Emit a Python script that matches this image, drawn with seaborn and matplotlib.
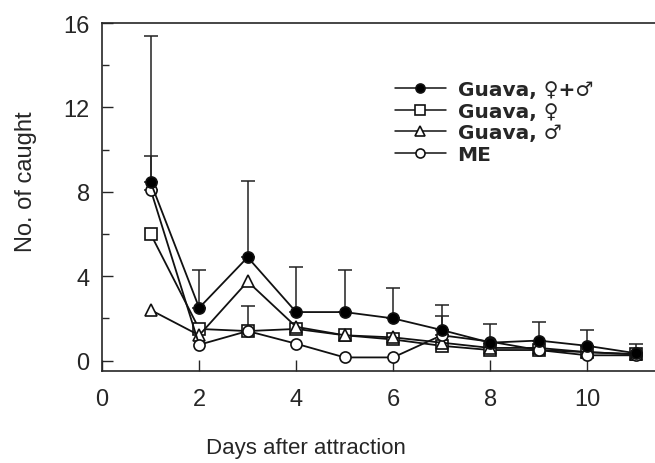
import matplotlib
matplotlib.use("Agg")
import matplotlib.pyplot as plt
import pandas as pd
import seaborn as sns
from matplotlib.ticker import MultipleLocator

days = [1, 2, 3, 4, 5, 6, 7, 8, 9, 10, 11]
guava_both = [8.45, 2.5, 4.9, 2.3, 2.3, 2.0, 1.45, 0.85, 0.95, 0.7, 0.35]
guava_female = [6.0, 1.5, 1.4, 1.5, 1.2, 1.0, 0.7, 0.5, 0.5, 0.4, 0.3]
guava_male = [2.4, 1.2, 3.75, 1.6, 1.2, 1.1, 0.85, 0.6, 0.6, 0.4, 0.3]
me = [8.1, 0.75, 1.4, 0.8, 0.15, 0.15, 1.2, 0.9, 0.5, 0.25, 0.25]

# upper ends of the error bars (None = no bar visible)
guava_both_upper = [15.4, 4.3, 8.5, 4.45, 4.3, 3.45, 2.65, 1.75, 1.85, 1.45, 0.8]
me_upper = [9.7, None, 2.6, None, None, None, 2.1, None, None, None, None]

labels = ["Guava, ♀+♂", "Guava, ♀", "Guava, ♂", "ME"]

sns.set_style("ticks")
plt.rcParams["font.family"] = ["Liberation Sans", "DejaVu Sans"]


def main():
    series = [guava_both, guava_female, guava_male, me]
    df = pd.concat(
        [pd.DataFrame({"day": days, "count": v, "group": lab}) for lab, v in zip(labels, series)]
    )

    fig = plt.figure(figsize=(6.55, 4.64), dpi=100)
    ax = fig.add_axes([0.156, 0.198, 0.844, 0.750])

    # error bars first so the markers sit on top
    for vals, upper in [(guava_both, guava_both_upper), (me, me_upper)]:
        xs = [d for d, u in zip(days, upper) if u is not None]
        ys = [v for v, u in zip(vals, upper) if u is not None]
        err = [u - v for v, u in zip(vals, upper) if u is not None]
        ax.errorbar(xs, ys, yerr=[[0] * len(err), err], fmt="none", ecolor="#222222",
                    elinewidth=1.1, capsize=5, capthick=1.1, zorder=1)

    styles = {
        "Guava, ♀+♂": dict(marker="o", mfc="black", zorder=5),
        "Guava, ♀": dict(marker="s", mfc="white", zorder=3),
        "Guava, ♂": dict(marker="^", mfc="white", zorder=3),
        "ME": dict(marker="o", mfc="white", zorder=4),
    }
    for lab in labels:
        st = styles[lab]
        sns.lineplot(data=df[df["group"] == lab], x="day", y="count", ax=ax, color="#111111",
                     linewidth=1.3, marker=st["marker"], markersize=8, markerfacecolor=st["mfc"],
                     markeredgecolor="#111111", markeredgewidth=1.2, label=lab, zorder=st["zorder"])

    ax.set_xlim(0, 11.4)
    ax.set_ylim(-0.5, 16)
    ax.xaxis.set_major_locator(MultipleLocator(2))
    ax.yaxis.set_major_locator(MultipleLocator(4))
    ax.yaxis.set_minor_locator(MultipleLocator(2))
    ax.tick_params(which="major", direction="in", length=8, width=1, labelsize=17, pad=9)
    ax.tick_params(which="minor", direction="in", length=5, width=1)
    ax.tick_params(axis="x", pad=12)
    ax.spines["right"].set_visible(False)
    for s in ["left", "bottom", "top"]:
        ax.spines[s].set_linewidth(1.2)

    ax.set_xlabel("Days after attraction", fontsize=16)
    ax.xaxis.set_label_coords(0.368, -0.19)
    ax.set_ylabel("No. of caught", fontsize=17)
    ax.yaxis.set_label_coords(-0.118, 0.546)

    leg = ax.legend(loc="upper left", bbox_to_anchor=(0.53, 0.837), frameon=False,
                    borderpad=0, borderaxespad=0,
                    handlelength=2.5, handletextpad=0.6, labelspacing=0.14,
                    prop={"weight": "bold", "size": 14.5, "family": ["DejaVu Sans"]})
    for h in leg.get_lines():
        h.set_markersize(6.5)
        h.set_linewidth(1.1)

    fig.savefig("out.png", dpi=100)


if __name__ == "__main__":
    main()
